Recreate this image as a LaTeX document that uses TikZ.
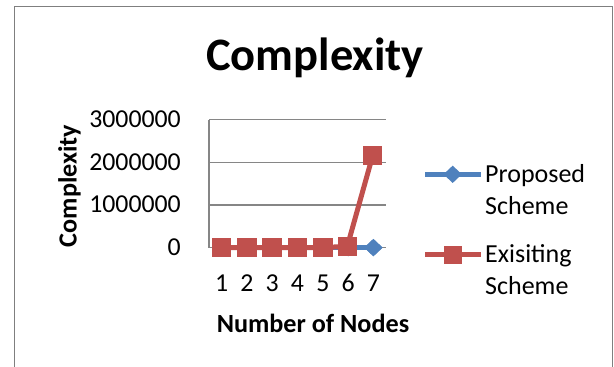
\documentclass[tikz,border=0pt]{standalone}
\usepackage{fontspec}
\setmainfont{Carlito}
\usetikzlibrary{shapes.geometric}
\definecolor{serblue}{HTML}{4F81BD}
\definecolor{serred}{HTML}{C0504D}
\definecolor{gridgray}{HTML}{868686}
\definecolor{framegray}{HTML}{7F7F7F}
\tikzset{
  gridline/.style={draw=gridgray, line width=1.3pt},
  ticklbl/.style={inner sep=0pt, font=\fontsize{25.8}{30}\selectfont},
  axtitle/.style={inner sep=0pt, font=\fontsize{26.2}{31}\selectfont\bfseries},
  legtext/.style={inner sep=0pt, anchor=base west, font=\fontsize{26}{31}\selectfont},
  redmark/.style={rectangle, fill=serred, minimum size=19.5pt, inner sep=0pt},
  bluemark/.style={diamond, fill=serblue, minimum width=18.5pt, minimum height=17.5pt, inner sep=0pt, shape aspect=1},
  redline/.style={draw=serred, line width=5pt},
  blueline/.style={draw=serblue, line width=5pt},
}
\begin{document}
\begin{tikzpicture}[x=1pt,y=-1pt]
\useasboundingbox (0,0) rectangle (614,367);
\clip (0,0) rectangle (614,367);
% chart frame
\draw[framegray, line width=1.5pt] (14.5,6.7) rectangle (612.7,400);
% title
\node[inner sep=0pt, anchor=base, font=\fontsize{46.5}{50}\selectfont\bfseries] (title) at (315,70.7) {Complexity};
% gridlines and axes
\coordinate (g0l) at (209,247.6); \coordinate (g0r) at (386,247.6);
\coordinate (g1l) at (209,204.9); \coordinate (g1r) at (386,204.9);
\coordinate (g2l) at (209,162.2); \coordinate (g2r) at (386,162.2);
\coordinate (g3l) at (209,119.5); \coordinate (g3r) at (386,119.5);
\draw[gridline] (g1l) -- (g1r);
\draw[gridline] (g2l) -- (g2r);
\draw[gridline] (g3l) -- (g3r);
\draw[gridline] (g3l) -- (g0l) -- (g0r);
% y tick labels
\node[ticklbl, anchor=base east] (y3) at (181,127.3) {3000000};
\node[ticklbl, anchor=base east] (y2) at (181,170.0) {2000000};
\node[ticklbl, anchor=base east] (y1) at (181,212.7) {1000000};
\node[ticklbl, anchor=base east] (y0) at (181,255.4) {0};
% x tick labels
\foreach \i in {1,...,7}{
  \node[ticklbl, anchor=base] (x\i) at ({209+25.29*(\i-0.5)},291) {\i};
}
% axis titles
\node[axtitle, anchor=base, rotate=90] (ytitle) at (76.5,186) {Complexity};
\node[axtitle, anchor=base] (xtitle) at (313,332.3) {Number of Nodes};
% Proposed scheme series
\foreach \i in {1,...,7}{
  \node[bluemark] (b\i) at ({209+25.29*(\i-0.5)},247.6) {};
}
\draw[blueline] (b1.center) -- (b2.center) -- (b3.center) -- (b4.center) -- (b5.center) -- (b6.center) -- (b7.center);
\foreach \i in {1,...,7}{
  \node[bluemark] at (b\i) {};
}
% Existing scheme series
\foreach \i in {1,...,5}{
  \coordinate (rc\i) at ({209+25.29*(\i-0.5)},247.6);
}
\coordinate (rc6) at (347.3,246.3);
\coordinate (rc7) at (372.7,155.5);
\draw[redline] (rc1) -- (rc2) -- (rc3) -- (rc4) -- (rc5) -- (rc6) -- (rc7);
\foreach \i in {1,...,7}{
  \node[redmark] (r\i) at (rc\i) {};
}
% legend
\coordinate (lb1) at (425,174.3); \coordinate (lb2) at (480.7,174.3);
\draw[blueline, line width=4.5pt] (lb1) -- (lb2);
\node[bluemark] (lbm) at (452.7,174.3) {};
\coordinate (lr1) at (425,254.5); \coordinate (lr2) at (480.7,254.5);
\draw[redline, line width=4.5pt] (lr1) -- (lr2);
\node[redmark, minimum width=17.5pt, minimum height=18pt] (lrm) at (453,254.8) {};
\node[legtext] (lp1) at (485,182.7) {Proposed};
\node[legtext] (lp2) at (485,214.3) {Scheme};
\node[legtext] (le1) at (485,262.7) {Exisiting};
\node[legtext] (le2) at (485,294.3) {Scheme};
\end{tikzpicture}
\end{document}
